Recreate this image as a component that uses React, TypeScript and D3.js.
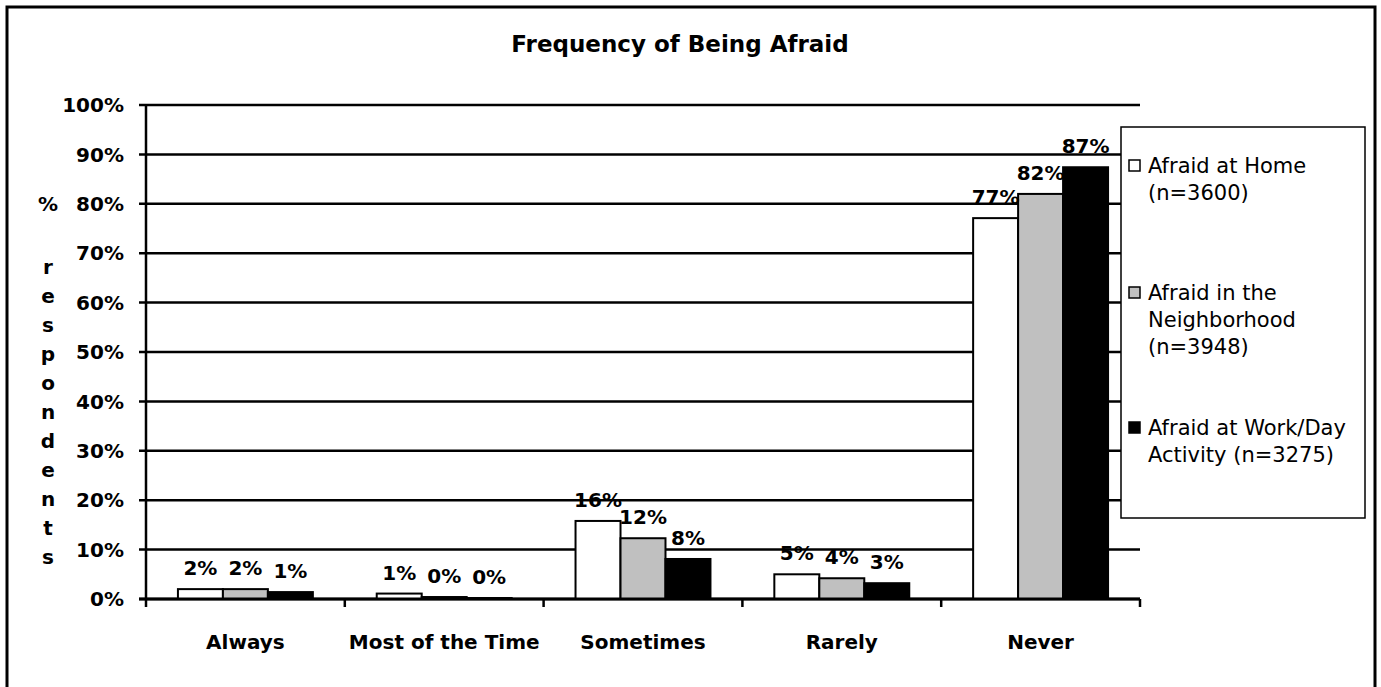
import React from 'react';
import * as d3 from 'd3';

const categories = ['Always', 'Most of the Time', 'Sometimes', 'Rarely', 'Never'];
const homeValues = [2, 1.1, 15.8, 5, 77.1];
const neighborhoodValues = [2, 0.4, 12.3, 4.2, 82];
const workValues = [1.4, 0.2, 8.1, 3.2, 87.4];
const seriesKeys = ['home', 'neighborhood', 'work'];
const legendLines = [
  ['Afraid at Home', '(n=3600)'],
  ['Afraid in the', 'Neighborhood', '(n=3948)'],
  ['Afraid at Work/Day', 'Activity (n=3275)'],
];
const yTicks = [0, 10, 20, 30, 40, 50, 60, 70, 80, 90, 100];
const yTitleLetters = ['r', 'e', 's', 'p', 'o', 'n', 'd', 'e', 'n', 't', 's'];

const W = 1381;
const H = 687;
const left = 146;
const right = 1140;
const top = 105;
const bottom = 599;

const fills = ['#ffffff', '#c0c0c0', '#000000'];
const boldFont = '"DejaVu Sans", sans-serif';

const App: React.FC = () => {
  const series = [homeValues, neighborhoodValues, workValues];

  const y = d3.scaleLinear().domain([0, 100]).range([bottom, top]);
  const x = d3.scaleBand<string>().domain(categories).range([left, right]).padding(0);
  const inner = d3
    .scaleBand<string>()
    .domain(seriesKeys)
    .range([0, x.bandwidth()])
    .paddingInner(0)
    .paddingOuter(0.71);
  const color = d3.scaleOrdinal<string, string>().domain(seriesKeys).range(fills);

  const tickXs = categories.map((c) => x(c) as number).concat([right]);

  // legend layout: first-line offsets of each entry
  const legendItemY = [173, 300, 435];

  return (
    <svg
      width={W}
      height={H}
      style={{ position: 'absolute', left: 0, top: 0, background: '#fff' }}
    >
      <rect x={0} y={0} width={W} height={H} fill="#fff" />

      {/* title */}
      <text
        x={680}
        y={52}
        textAnchor="middle"
        fontFamily={boldFont}
        fontWeight="bold"
        fontSize={23}
      >
        Frequency of Being Afraid
      </text>

      {/* gridlines */}
      {yTicks.map((t) => (
        <line
          key={'g' + t}
          x1={139}
          x2={right}
          y1={y(t)}
          y2={y(t)}
          stroke="#000"
          strokeWidth={2.5}
        />
      ))}

      {/* y tick labels */}
      {yTicks.map((t) => (
        <text
          key={'yl' + t}
          x={124}
          y={y(t)}
          dy="0.36em"
          textAnchor="end"
          fontFamily={boldFont}
          fontWeight="bold"
          fontSize={20}
        >
          {t}%
        </text>
      ))}

      {/* y axis title */}
      <text
        x={48}
        y={y(80)}
        dy="0.36em"
        textAnchor="middle"
        fontFamily={boldFont}
        fontWeight="bold"
        fontSize={20}
      >
        %
      </text>
      {yTitleLetters.map((ch, i) => (
        <text
          key={'yt' + i}
          x={48}
          y={267 + i * 29}
          dy="0.36em"
          textAnchor="middle"
          fontFamily={boldFont}
          fontWeight="bold"
          fontSize={20}
        >
          {ch}
        </text>
      ))}

      {/* bars */}
      {categories.map((c, ci) =>
        seriesKeys.map((k, si) => {
          const v = series[si][ci];
          const bx = (x(c) as number) + (inner(k) as number);
          return (
            <rect
              key={c + k}
              x={bx}
              y={y(v)}
              width={inner.bandwidth()}
              height={bottom - y(v)}
              fill={color(k)}
              stroke="#000"
              strokeWidth={2}
            />
          );
        })
      )}

      {/* data labels */}
      {categories.map((c, ci) =>
        seriesKeys.map((k, si) => {
          const v = series[si][ci];
          const bx = (x(c) as number) + (inner(k) as number) + inner.bandwidth() / 2;
          return (
            <text
              key={'dl' + c + k}
              x={bx}
              y={y(v) - 14}
              textAnchor="middle"
              fontFamily={boldFont}
              fontWeight="bold"
              fontSize={20}
            >
              {Math.round(v)}%
            </text>
          );
        })
      )}

      {/* axes */}
      <line x1={left} x2={left} y1={top} y2={bottom + 1} stroke="#000" strokeWidth={2.5} />
      <line x1={139} x2={right} y1={bottom} y2={bottom} stroke="#000" strokeWidth={3} />
      {tickXs.map((tx, i) => (
        <line
          key={'xt' + i}
          x1={tx}
          x2={tx}
          y1={bottom}
          y2={bottom + 8}
          stroke="#000"
          strokeWidth={2.5}
        />
      ))}
      {categories.map((c) => (
        <text
          key={'xl' + c}
          x={(x(c) as number) + x.bandwidth() / 2}
          y={649}
          textAnchor="middle"
          fontFamily={boldFont}
          fontWeight="bold"
          fontSize={20}
        >
          {c}
        </text>
      ))}

      {/* legend */}
      <rect x={1121} y={127} width={244} height={391} fill="#fff" stroke="#000" strokeWidth={1.5} />
      {legendLines.map((lines, i) => (
        <g key={'lg' + i}>
          <rect
            x={1129}
            y={legendItemY[i] - 13}
            width={11}
            height={11}
            fill={fills[i]}
            stroke="#000"
            strokeWidth={1.5}
          />
          {lines.map((ln, j) => (
            <text
              key={j}
              x={1148}
              y={legendItemY[i] + j * 27}
              fontFamily={boldFont}
              fontSize={21}
            >
              {ln}
            </text>
          ))}
        </g>
      ))}

      {/* outer border */}
      <rect x={7} y={7} width={1368} height={H + 10} fill="none" stroke="#000" strokeWidth={3} />
    </svg>
  );
};

export default App;
